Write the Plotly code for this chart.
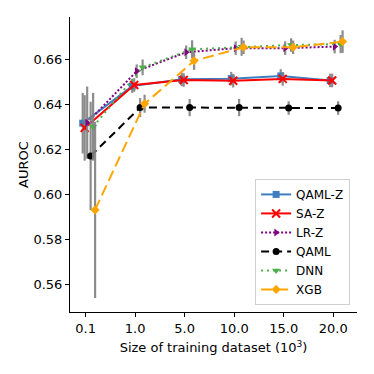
import plotly.graph_objects as go

# Training set sizes (in thousands) shown as categorical ticks
sizes = ["0.1", "1.0", "5.0", "10.0", "15.0", "20.0"]

# AUROC means and errors per model
qaml_z = [0.6316, 0.6480, 0.6510, 0.6513, 0.6525, 0.6505]
qaml_z_err = [0.0134, 0.0030, 0.0030, 0.0030, 0.0030, 0.0030]

sa_z = [0.6295, 0.6485, 0.6507, 0.6504, 0.6512, 0.6505]
sa_z_err = [0.0145, 0.0030, 0.0030, 0.0030, 0.0030, 0.0030]

lr_z = [0.6318, 0.6546, 0.6630, 0.6648, 0.6648, 0.6655]
lr_z_err = [0.0160, 0.0030, 0.0030, 0.0030, 0.0030, 0.0030]

qaml = [0.6171, 0.6385, 0.6385, 0.6385, 0.6383, 0.6383]
qaml_err = [0.0240, 0.0042, 0.0038, 0.0038, 0.0030, 0.0030]

dnn = [0.6300, 0.6563, 0.6643, 0.6654, 0.6662, 0.6666]
dnn_err = [0.0150, 0.0035, 0.0040, 0.0040, 0.0030, 0.0040]

xgb = [0.5932, 0.6402, 0.6592, 0.6652, 0.6652, 0.6677]
xgb_err = [0.0390, 0.0040, 0.0040, 0.0030, 0.0030, 0.0050]

FONT = "DejaVu Sans"

# name, values, errors, colour, dash, marker symbol, horizontal dodge
series = [
    ("QAML-Z", qaml_z, qaml_z_err, "#3f7fbf", "solid", "square", -0.06),
    ("SA-Z", sa_z, sa_z_err, "#ff0000", "solid", "x-thin-open", -0.02),
    ("LR-Z", lr_z, lr_z_err, "#800080", "2px,2px", "triangle-right", 0.03),
    ("QAML", qaml, qaml_err, "#000000", "8px,5px", "circle", 0.10),
    ("DNN", dnn, dnn_err, "#4daf4a", "2px,4px", "triangle-down", 0.15),
    ("XGB", xgb, xgb_err, "#ffa500", "11px,5px", "diamond", 0.19),
]

fig = go.Figure()

for name, vals, errs, color, dash, symbol, dodge in series:
    xs = [i + dodge for i in range(len(sizes))]
    marker = dict(symbol=symbol, size=7, color=color)
    if symbol == "x-thin-open":
        marker = dict(symbol=symbol, size=8, color=color, line=dict(color=color, width=2))
    fig.add_trace(go.Scatter(
        x=xs, y=vals, name=name, mode="lines+markers",
        line=dict(color=color, width=2, dash=dash),
        marker=marker,
        error_y=dict(type="data", array=errs, color="rgba(128,128,128,0.9)",
                     thickness=2.2, width=0),
    ))

# the page body adds an 8px offset, so margins are shifted to compensate
fig.update_layout(
    width=374, height=374,
    margin=dict(l=62, r=25, t=9, b=70),
    plot_bgcolor="white", paper_bgcolor="white",
    font=dict(family=FONT, size=13, color="black"),
    showlegend=True,
    legend=dict(
        x=0.976, y=0.024, xanchor="right", yanchor="bottom",
        bgcolor="white", bordercolor="#d0d0d0", borderwidth=1,
        font=dict(family=FONT, size=12, color="black"), tracegroupgap=0,
        itemwidth=30,
    ),
)

fig.update_xaxes(
    range=[-0.317, 5.481], automargin=False,
    tickmode="array", tickvals=list(range(len(sizes))), ticktext=sizes,
    tickfont=dict(family=FONT, size=13),
    showline=True, linecolor="black", linewidth=1, mirror=False,
    ticks="outside", ticklen=4, tickcolor="black",
    showgrid=False, zeroline=False,
    title=dict(text="Size of training dataset (10<sup>3</sup>)", standoff=8,
               font=dict(family=FONT, size=13)),
)
fig.update_yaxes(
    range=[0.548, 0.6786], automargin=False,
    tickvals=[0.56, 0.58, 0.60, 0.62, 0.64, 0.66], tickformat=".2f",
    tickfont=dict(family=FONT, size=13),
    showline=True, linecolor="black", linewidth=1, mirror=False,
    ticks="outside", ticklen=4, tickcolor="black",
    showgrid=False, zeroline=False,
    title=dict(text="AUROC", standoff=1, font=dict(family=FONT, size=13)),
)

fig.write_html("out.html")
